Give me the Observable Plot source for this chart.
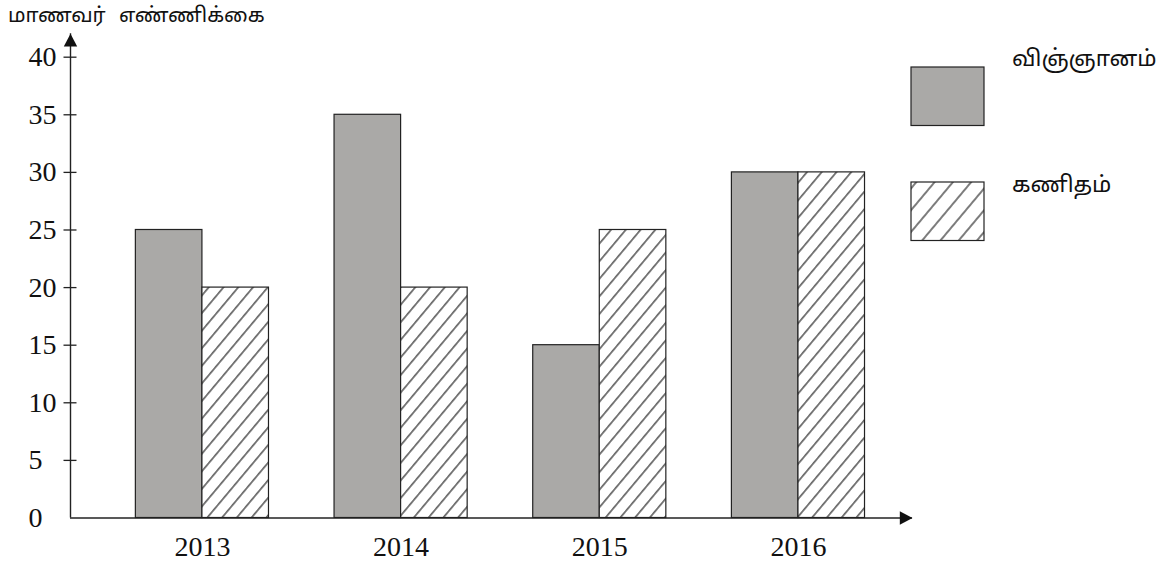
<!DOCTYPE html>
<html>
<head>
<meta charset="utf-8">
<script src="https://cdn.jsdelivr.net/npm/d3@7"></script>
<script src="https://cdn.jsdelivr.net/npm/@observablehq/plot@0.6"></script>
<style>
  html, body { margin: 0; padding: 0; background: #fff; }
  #wrap { position: relative; width: 1172px; height: 562px; overflow: hidden; }
  #wrap svg.plot { position: absolute; left: 0; top: 0; z-index: 0; }
  .tamil { font-family: "Noto Sans Tamil", "Lohit Tamil", "Latha", "Noto Sans", sans-serif; color: #111; position: absolute; white-space: nowrap; z-index: 3; }
  #title { left: 8px; top: 4px; font-size: 20.5px; word-spacing: 8px; }
  .legtext { font-size: 22.5px; }
  #legend { position: absolute; left: 0; top: 0; z-index: 2; }
</style>
</head>
<body>
<div id="wrap"></div>
<script>
// ---- data ----
const years = [2013, 2014, 2015, 2016];
const science = [25, 35, 15, 30];
const maths = [20, 20, 25, 30];
const seriesNames = ["விஞ்ஞானம்", "கணிதம்"];
const yTicks = [0, 5, 10, 15, 20, 25, 30, 35, 40];
const yTickMarks = [5, 10, 15, 20, 25, 30, 35, 40];
const yTitle = "மாணவர் எண்ணிக்கை";

// ---- layout ----
const halfW = 0.335;              // width of one bar in year units
const xStart = 2012.336, xEnd = 2016.574;
const yEnd = 42.03;
const W = 1172, H = 562;
const mL = 70, mR = W - 912, mT = 33.3, mB = H - 517.5;

const rows = [];
years.forEach((y, i) => {
  rows.push({year: y, series: seriesNames[0], value: science[i], x1: y - halfW, x2: y});
  rows.push({year: y, series: seriesNames[1], value: maths[i], x1: y, x2: y + halfW});
});

const arrowSymbol = {
  draw(ctx) {
    ctx.moveTo(0, 0);
    ctx.lineTo(-6.7, 12.7);
    ctx.lineTo(6.7, 12.7);
    ctx.closePath();
  }
};

const serif = "'Liberation Serif', 'Times New Roman', serif";
const frameW = W - mL - mR;

const chart = Plot.plot({
  width: W,
  height: H,
  marginLeft: mL, marginRight: mR, marginTop: mT, marginBottom: mB,
  x: {type: "linear", domain: [xStart, xEnd], axis: null},
  y: {type: "linear", domain: [0, yEnd], axis: null},
  style: {background: "white", overflow: "visible"},
  marks: [
    Plot.rectY(rows, {
      x1: "x1", x2: "x2", y: "value",
      fill: d => d.series === seriesNames[0] ? "#aaa9a7" : "url(#hatchBar)",
      stroke: "#222", strokeWidth: 1.2
    }),
    // axes
    Plot.ruleY([0], {stroke: "#222", strokeWidth: 1.4}),
    Plot.ruleX([xStart], {stroke: "#222", strokeWidth: 1.4}),
    Plot.ruleY(yTickMarks, {y: d => d, dx: -6.5, insetRight: frameW - 13, stroke: "#222", strokeWidth: 1.3}),
    Plot.dot([0], {x: xStart, y: yEnd, symbol: arrowSymbol, fill: "#111", stroke: "none"}),
    Plot.dot([0], {x: xEnd, y: 0, symbol: arrowSymbol, rotate: 90, fill: "#111", stroke: "none"}),
    // tick labels
    Plot.text(yTicks, {y: d => d, frameAnchor: "left", dx: -42, textAnchor: "start", text: d => String(d),
      fontFamily: serif, fontSize: 28, fill: "#111"}),
    Plot.text(years, {x: d => d, y: 0, dy: 29, text: d => String(d), fontFamily: serif, fontSize: 28, fill: "#111"})
  ]
});
chart.classList.add("plot");

// hatch pattern defs
const ns = "http://www.w3.org/2000/svg";
const defs = document.createElementNS(ns, "defs");
defs.innerHTML = `
  <pattern id="hatchBar" patternUnits="userSpaceOnUse" width="11.3" height="11.3" patternTransform="rotate(40)">
    <rect width="11.3" height="11.3" fill="white"/>
    <line x1="5.6" y1="0" x2="5.6" y2="11.3" stroke="#111" stroke-width="1.1"/>
  </pattern>`;
chart.insertBefore(defs, chart.firstChild);

const wrap = document.getElementById("wrap");
wrap.appendChild(chart);

const title = document.createElement("div");
title.id = "title";
title.className = "tamil";
title.textContent = yTitle;
wrap.appendChild(title);

// legend
const leg = document.createElementNS(ns, "svg");
leg.setAttribute("width", W);
leg.setAttribute("height", H);
leg.setAttribute("id", "legend");
leg.innerHTML = `
  <defs>
    <pattern id="hatchLeg" patternUnits="userSpaceOnUse" width="14" height="14" patternTransform="rotate(40)">
      <rect width="14" height="14" fill="white"/>
      <line x1="7" y1="0" x2="7" y2="14" stroke="#111" stroke-width="1.1"/>
    </pattern>
  </defs>
  <rect x="911" y="67" width="73" height="58.5" fill="#aaa9a7" stroke="#222" stroke-width="1.2"/>
  <rect x="911" y="182" width="73" height="58.5" fill="url(#hatchLeg)" stroke="#222" stroke-width="1.2"/>`;
wrap.appendChild(leg);

[[seriesNames[0], 1012, 46], [seriesNames[1], 1012, 172]].forEach(([t, x, y]) => {
  const d = document.createElement("div");
  d.className = "tamil legtext";
  d.style.left = x + "px";
  d.style.top = y + "px";
  d.textContent = t;
  wrap.appendChild(d);
});
</script>
</body>
</html>
